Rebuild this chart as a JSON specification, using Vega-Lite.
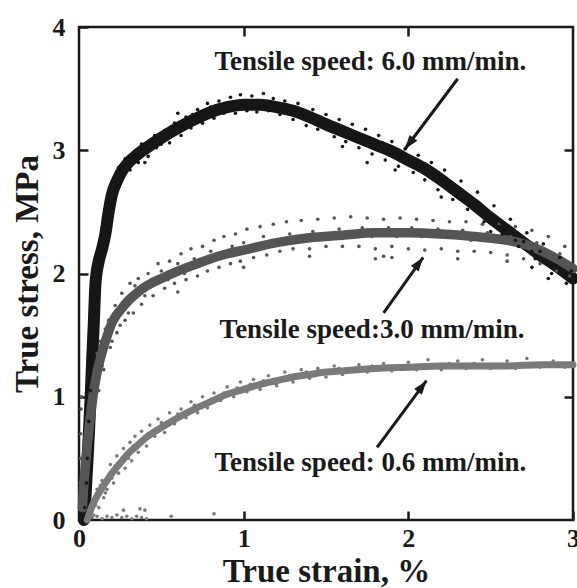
{
 "$schema": "https://vega.github.io/schema/vega-lite/v6.json",
 "width": 494, "height": 493,
 "autosize": {"type": "none"},
 "padding": {"left": 79, "top": 27, "right": 4, "bottom": 68},
 "background": "white",
 "config": {
  "view": {"stroke": "#1a1a1a", "strokeWidth": 2.5},
  "font": "Liberation Serif",
  "axis": {"grid": false, "domain": false, "tickColor": "#1a1a1a", "tickWidth": 2.5, "tickSize": -9,
   "labelFont": "Liberation Serif", "labelFontWeight": "bold", "labelFontSize": 26, "labelColor": "#1a1a1a",
   "titleFont": "Liberation Serif", "titleFontWeight": "bold", "titleFontSize": 33, "titleColor": "#1a1a1a",
   "labelFlush": false, "labelOverlap": false}
 },
 "datasets": {
  "curves": [
   {"s":"6.0","x":0.03,"y":0.0},{"s":"6.0","x":0.04,"y":0.2},{"s":"6.0","x":0.05,"y":0.45},{"s":"6.0","x":0.06,"y":0.7},{"s":"6.0","x":0.07,"y":0.98},{"s":"6.0","x":0.08,"y":1.3},{"s":"6.0","x":0.09,"y":1.6},{"s":"6.0","x":0.1,"y":1.92},{"s":"6.0","x":0.12,"y":2.1},{"s":"6.0","x":0.14,"y":2.2},{"s":"6.0","x":0.16,"y":2.32},{"s":"6.0","x":0.18,"y":2.5},{"s":"6.0","x":0.2,"y":2.64},{"s":"6.0","x":0.23,"y":2.75},{"s":"6.0","x":0.26,"y":2.83},{"s":"6.0","x":0.3,"y":2.9},{"s":"6.0","x":0.35,"y":2.96},{"s":"6.0","x":0.4,"y":3.01},{"s":"6.0","x":0.5,"y":3.1},{"s":"6.0","x":0.6,"y":3.18},{"s":"6.0","x":0.7,"y":3.25},{"s":"6.0","x":0.8,"y":3.31},{"s":"6.0","x":0.9,"y":3.35},{"s":"6.0","x":1.0,"y":3.37},{"s":"6.0","x":1.1,"y":3.37},{"s":"6.0","x":1.2,"y":3.35},{"s":"6.0","x":1.3,"y":3.32},{"s":"6.0","x":1.4,"y":3.27},{"s":"6.0","x":1.5,"y":3.21},{"s":"6.0","x":1.6,"y":3.155},{"s":"6.0","x":1.7,"y":3.1},{"s":"6.0","x":1.8,"y":3.045},{"s":"6.0","x":1.9,"y":2.99},{"s":"6.0","x":2.0,"y":2.92},{"s":"6.0","x":2.1,"y":2.85},{"s":"6.0","x":2.2,"y":2.76},{"s":"6.0","x":2.3,"y":2.66},{"s":"6.0","x":2.4,"y":2.56},{"s":"6.0","x":2.5,"y":2.45},{"s":"6.0","x":2.6,"y":2.35},{"s":"6.0","x":2.7,"y":2.25},{"s":"6.0","x":2.8,"y":2.15},{"s":"6.0","x":2.9,"y":2.06},{"s":"6.0","x":3.0,"y":1.96},
   {"s":"3.0","x":0.02,"y":0.1},{"s":"3.0","x":0.03,"y":0.3},{"s":"3.0","x":0.05,"y":0.6},{"s":"3.0","x":0.07,"y":0.85},{"s":"3.0","x":0.09,"y":1.05},{"s":"3.0","x":0.11,"y":1.2},{"s":"3.0","x":0.14,"y":1.36},{"s":"3.0","x":0.17,"y":1.49},{"s":"3.0","x":0.2,"y":1.6},{"s":"3.0","x":0.25,"y":1.7},{"s":"3.0","x":0.3,"y":1.78},{"s":"3.0","x":0.35,"y":1.84},{"s":"3.0","x":0.4,"y":1.89},{"s":"3.0","x":0.5,"y":1.96},{"s":"3.0","x":0.6,"y":2.02},{"s":"3.0","x":0.7,"y":2.07},{"s":"3.0","x":0.8,"y":2.12},{"s":"3.0","x":0.9,"y":2.16},{"s":"3.0","x":1.0,"y":2.19},{"s":"3.0","x":1.2,"y":2.25},{"s":"3.0","x":1.4,"y":2.29},{"s":"3.0","x":1.6,"y":2.31},{"s":"3.0","x":1.8,"y":2.33},{"s":"3.0","x":2.0,"y":2.33},{"s":"3.0","x":2.2,"y":2.32},{"s":"3.0","x":2.4,"y":2.3},{"s":"3.0","x":2.6,"y":2.27},{"s":"3.0","x":2.7,"y":2.24},{"s":"3.0","x":2.8,"y":2.19},{"s":"3.0","x":2.9,"y":2.12},{"s":"3.0","x":3.0,"y":2.04},
   {"s":"0.6","x":0.05,"y":0.0},{"s":"0.6","x":0.07,"y":0.08},{"s":"0.6","x":0.1,"y":0.17},{"s":"0.6","x":0.13,"y":0.24},{"s":"0.6","x":0.17,"y":0.32},{"s":"0.6","x":0.2,"y":0.38},{"s":"0.6","x":0.25,"y":0.46},{"s":"0.6","x":0.3,"y":0.54},{"s":"0.6","x":0.35,"y":0.6},{"s":"0.6","x":0.4,"y":0.66},{"s":"0.6","x":0.5,"y":0.75},{"s":"0.6","x":0.6,"y":0.83},{"s":"0.6","x":0.7,"y":0.9},{"s":"0.6","x":0.8,"y":0.96},{"s":"0.6","x":0.9,"y":1.02},{"s":"0.6","x":1.0,"y":1.06},{"s":"0.6","x":1.1,"y":1.1},{"s":"0.6","x":1.2,"y":1.13},{"s":"0.6","x":1.3,"y":1.16},{"s":"0.6","x":1.4,"y":1.18},{"s":"0.6","x":1.5,"y":1.2},{"s":"0.6","x":1.6,"y":1.21},{"s":"0.6","x":1.8,"y":1.23},{"s":"0.6","x":2.0,"y":1.24},{"s":"0.6","x":2.2,"y":1.25},{"s":"0.6","x":2.4,"y":1.25},{"s":"0.6","x":2.6,"y":1.25},{"s":"0.6","x":2.8,"y":1.26},{"s":"0.6","x":3.0,"y":1.26}
  ],
  "dots": [
   {"s":"0.6","x":0.06,"y":0.05},{"s":"0.6","x":0.08,"y":0.15},{"s":"0.6","x":0.09,"y":0.04},{"s":"0.6","x":0.11,"y":0.25},{"s":"0.6","x":0.12,"y":0.1},{"s":"0.6","x":0.14,"y":0.32},{"s":"0.6","x":0.15,"y":0.18},{"s":"0.6","x":0.17,"y":0.25},{"s":"0.6","x":0.19,"y":0.45},{"s":"0.6","x":0.21,"y":0.3},{"s":"0.6","x":0.23,"y":0.52},{"s":"0.6","x":0.24,"y":0.38},{"s":"0.6","x":0.27,"y":0.58},{"s":"0.6","x":0.28,"y":0.42},{"s":"0.6","x":0.31,"y":0.63},{"s":"0.6","x":0.32,"y":0.48},{"s":"0.6","x":0.34,"y":0.68},{"s":"0.6","x":0.36,"y":0.55},{"s":"0.6","x":0.38,"y":0.72},{"s":"0.6","x":0.41,"y":0.6},{"s":"0.6","x":0.43,"y":0.77},{"s":"0.6","x":0.46,"y":0.68},{"s":"0.6","x":0.48,"y":0.82},{"s":"0.6","x":0.52,"y":0.71},{"s":"0.6","x":0.55,"y":0.87},{"s":"0.6","x":0.58,"y":0.78},{"s":"0.6","x":0.62,"y":0.9},{"s":"0.6","x":0.65,"y":0.83},{"s":"0.6","x":0.68,"y":0.96},{"s":"0.6","x":0.72,"y":0.87},{"s":"0.6","x":0.75,"y":1.0},{"s":"0.6","x":0.78,"y":0.91},{"s":"0.6","x":0.82,"y":1.03},{"s":"0.6","x":0.86,"y":0.97},{"s":"0.6","x":0.9,"y":1.08},{"s":"0.6","x":0.94,"y":1.0},{"s":"0.6","x":0.98,"y":1.12},{"s":"0.6","x":1.02,"y":1.04},{"s":"0.6","x":1.06,"y":1.14},{"s":"0.6","x":1.1,"y":1.06},{"s":"0.6","x":1.15,"y":1.17},{"s":"0.6","x":1.2,"y":1.09},{"s":"0.6","x":1.25,"y":1.2},{"s":"0.6","x":1.3,"y":1.12},{"s":"0.6","x":1.35,"y":1.22},{"s":"0.6","x":1.4,"y":1.15},{"s":"0.6","x":1.45,"y":1.23},{"s":"0.6","x":1.5,"y":1.16},{"s":"0.6","x":1.55,"y":1.25},{"s":"0.6","x":1.6,"y":1.18},{"s":"0.6","x":1.7,"y":1.26},{"s":"0.6","x":1.75,"y":1.2},{"s":"0.6","x":1.85,"y":1.27},{"s":"0.6","x":1.9,"y":1.21},{"s":"0.6","x":2.0,"y":1.28},{"s":"0.6","x":2.05,"y":1.22},{"s":"0.6","x":2.12,"y":1.3},{"s":"0.6","x":2.2,"y":1.22},{"s":"0.6","x":2.3,"y":1.29},{"s":"0.6","x":2.35,"y":1.23},{"s":"0.6","x":2.45,"y":1.3},{"s":"0.6","x":2.5,"y":1.23},{"s":"0.6","x":2.6,"y":1.29},{"s":"0.6","x":2.65,"y":1.23},{"s":"0.6","x":2.72,"y":1.31},{"s":"0.6","x":2.8,"y":1.24},{"s":"0.6","x":2.88,"y":1.29},{"s":"0.6","x":2.95,"y":1.24},
   {"s":"0.6","x":0.1,"y":0.12},{"s":"0.6","x":0.13,"y":0.28},{"s":"0.6","x":0.16,"y":0.22},{"s":"0.6","x":0.2,"y":0.34},{"s":"0.6","x":0.22,"y":0.44},{"s":"0.6","x":0.26,"y":0.5},{"s":"0.6","x":0.3,"y":0.5},{"s":"0.6","x":0.33,"y":0.6},{"s":"0.6","x":0.37,"y":0.64},{"s":"0.6","x":0.42,"y":0.7},{"s":"0.6","x":0.45,"y":0.72},{"s":"0.6","x":0.5,"y":0.79},{"s":"0.6","x":0.54,"y":0.78},{"s":"0.6","x":0.6,"y":0.86},{"s":"0.6","x":0.64,"y":0.87},{"s":"0.6","x":0.7,"y":0.93},{"s":"0.6","x":0.76,"y":0.95},{"s":"0.6","x":0.8,"y":0.98},{"s":"0.6","x":0.88,"y":1.03},{"s":"0.6","x":0.96,"y":1.07},{"s":"0.6","x":1.04,"y":1.1},{"s":"0.6","x":1.12,"y":1.13},{"s":"0.6","x":1.18,"y":1.14},{"s":"0.6","x":1.28,"y":1.17},{"s":"0.6","x":1.38,"y":1.2},{"s":"0.6","x":1.48,"y":1.21},{"s":"0.6","x":1.58,"y":1.23},{"s":"0.6","x":1.68,"y":1.23},{"s":"0.6","x":1.78,"y":1.25},{"s":"0.6","x":1.95,"y":1.25},{"s":"0.6","x":2.1,"y":1.26},{"s":"0.6","x":2.25,"y":1.27},{"s":"0.6","x":2.4,"y":1.27},{"s":"0.6","x":2.55,"y":1.26},{"s":"0.6","x":2.7,"y":1.27},{"s":"0.6","x":2.85,"y":1.27},{"s":"0.6","x":2.99,"y":1.27},
   {"s":"0.6","x":0.08,"y":0.02},{"s":"0.6","x":0.11,"y":0.03},{"s":"0.6","x":0.14,"y":0.01},{"s":"0.6","x":0.17,"y":0.03},{"s":"0.6","x":0.2,"y":0.02},{"s":"0.6","x":0.23,"y":0.04},{"s":"0.6","x":0.26,"y":0.02},{"s":"0.6","x":0.29,"y":0.03},{"s":"0.6","x":0.32,"y":0.01},{"s":"0.6","x":0.35,"y":0.03},{"s":"0.6","x":0.38,"y":0.02},{"s":"0.6","x":0.41,"y":0.01},{"s":"0.6","x":0.27,"y":0.08},{"s":"0.6","x":0.37,"y":0.09},{"s":"0.6","x":0.4,"y":0.08},{"s":"0.6","x":0.56,"y":0.03},{"s":"0.6","x":0.82,"y":0.05},
   {"s":"3.0","x":0.005,"y":0.1},{"s":"3.0","x":0.008,"y":0.3},{"s":"3.0","x":0.01,"y":0.5},{"s":"3.0","x":0.01,"y":0.7},{"s":"3.0","x":0.012,"y":0.9},{"s":"3.0","x":0.015,"y":1.0},
   {"s":"3.0","x":0.04,"y":0.45},{"s":"3.0","x":0.06,"y":0.9},{"s":"3.0","x":0.08,"y":0.75},{"s":"3.0","x":0.1,"y":1.25},{"s":"3.0","x":0.12,"y":1.05},{"s":"3.0","x":0.13,"y":1.45},{"s":"3.0","x":0.15,"y":1.22},{"s":"3.0","x":0.18,"y":1.62},{"s":"3.0","x":0.19,"y":1.4},{"s":"3.0","x":0.22,"y":1.74},{"s":"3.0","x":0.23,"y":1.52},{"s":"3.0","x":0.26,"y":1.84},{"s":"3.0","x":0.28,"y":1.62},{"s":"3.0","x":0.31,"y":1.92},{"s":"3.0","x":0.33,"y":1.68},{"s":"3.0","x":0.36,"y":1.96},{"s":"3.0","x":0.38,"y":1.75},{"s":"3.0","x":0.42,"y":2.0},{"s":"3.0","x":0.45,"y":1.82},{"s":"3.0","x":0.48,"y":2.08},{"s":"3.0","x":0.52,"y":1.88},{"s":"3.0","x":0.55,"y":2.1},{"s":"3.0","x":0.58,"y":1.92},{"s":"3.0","x":0.62,"y":2.16},{"s":"3.0","x":0.65,"y":1.95},{"s":"3.0","x":0.68,"y":2.2},{"s":"3.0","x":0.72,"y":1.98},{"s":"3.0","x":0.75,"y":2.22},{"s":"3.0","x":0.78,"y":2.02},{"s":"3.0","x":0.82,"y":2.27},{"s":"3.0","x":0.85,"y":2.05},{"s":"3.0","x":0.88,"y":2.3},{"s":"3.0","x":0.92,"y":2.08},{"s":"3.0","x":0.95,"y":2.32},{"s":"3.0","x":0.98,"y":2.1},{"s":"3.0","x":1.02,"y":2.36},{"s":"3.0","x":1.06,"y":2.13},{"s":"3.0","x":1.1,"y":2.38},{"s":"3.0","x":1.14,"y":2.15},{"s":"3.0","x":1.18,"y":2.4},{"s":"3.0","x":1.22,"y":2.18},{"s":"3.0","x":1.26,"y":2.42},{"s":"3.0","x":1.3,"y":2.2},{"s":"3.0","x":1.35,"y":2.43},{"s":"3.0","x":1.4,"y":2.2},{"s":"3.0","x":1.45,"y":2.44},{"s":"3.0","x":1.5,"y":2.22},{"s":"3.0","x":1.55,"y":2.45},{"s":"3.0","x":1.6,"y":2.22},{"s":"3.0","x":1.65,"y":2.46},{"s":"3.0","x":1.7,"y":2.22},{"s":"3.0","x":1.75,"y":2.45},{"s":"3.0","x":1.8,"y":2.2},{"s":"3.0","x":1.85,"y":2.44},{"s":"3.0","x":1.9,"y":2.22},{"s":"3.0","x":1.95,"y":2.45},{"s":"3.0","x":2.0,"y":2.2},{"s":"3.0","x":2.05,"y":2.44},{"s":"3.0","x":2.1,"y":2.19},{"s":"3.0","x":2.15,"y":2.43},{"s":"3.0","x":2.2,"y":2.2},{"s":"3.0","x":2.25,"y":2.42},{"s":"3.0","x":2.3,"y":2.18},{"s":"3.0","x":2.35,"y":2.42},{"s":"3.0","x":2.4,"y":2.18},{"s":"3.0","x":2.45,"y":2.4},{"s":"3.0","x":2.5,"y":2.17},{"s":"3.0","x":2.55,"y":2.4},{"s":"3.0","x":2.6,"y":2.15},{"s":"3.0","x":2.65,"y":2.38},{"s":"3.0","x":2.7,"y":2.12},{"s":"3.0","x":2.75,"y":2.35},{"s":"3.0","x":2.8,"y":2.08},{"s":"3.0","x":2.85,"y":2.3},{"s":"3.0","x":2.9,"y":2.02},{"s":"3.0","x":2.95,"y":2.22},{"s":"3.0","x":2.98,"y":1.98},
   {"s":"3.0","x":0.03,"y":0.25},{"s":"3.0","x":0.05,"y":0.7},{"s":"3.0","x":0.07,"y":0.95},{"s":"3.0","x":0.09,"y":0.9},{"s":"3.0","x":0.11,"y":1.35},{"s":"3.0","x":0.14,"y":1.25},{"s":"3.0","x":0.16,"y":1.55},{"s":"3.0","x":0.2,"y":1.45},{"s":"3.0","x":0.21,"y":1.67},{"s":"3.0","x":0.25,"y":1.58},{"s":"3.0","x":0.27,"y":1.77},{"s":"3.0","x":0.3,"y":1.68},{"s":"3.0","x":0.34,"y":1.9},{"s":"3.0","x":0.4,"y":1.82},{"s":"3.0","x":0.44,"y":1.95},{"s":"3.0","x":0.5,"y":2.02},{"s":"3.0","x":0.54,"y":1.95},{"s":"3.0","x":0.6,"y":2.08},{"s":"3.0","x":0.64,"y":2.0},{"s":"3.0","x":0.7,"y":2.12},{"s":"3.0","x":0.76,"y":2.1},{"s":"3.0","x":0.8,"y":2.18},{"s":"3.0","x":0.87,"y":2.15},{"s":"3.0","x":0.93,"y":2.22},{"s":"3.0","x":1.0,"y":2.25},{"s":"3.0","x":1.05,"y":2.2},{"s":"3.0","x":1.12,"y":2.3},{"s":"3.0","x":1.2,"y":2.25},{"s":"3.0","x":1.28,"y":2.32},{"s":"3.0","x":1.33,"y":2.26},{"s":"3.0","x":1.42,"y":2.34},{"s":"3.0","x":1.48,"y":2.28},{"s":"3.0","x":1.58,"y":2.36},{"s":"3.0","x":1.63,"y":2.3},{"s":"3.0","x":1.72,"y":2.37},{"s":"3.0","x":1.78,"y":2.3},{"s":"3.0","x":1.88,"y":2.37},{"s":"3.0","x":1.93,"y":2.3},{"s":"3.0","x":2.02,"y":2.37},{"s":"3.0","x":2.08,"y":2.3},{"s":"3.0","x":2.18,"y":2.36},{"s":"3.0","x":2.23,"y":2.3},{"s":"3.0","x":2.33,"y":2.35},{"s":"3.0","x":2.38,"y":2.27},{"s":"3.0","x":2.48,"y":2.33},{"s":"3.0","x":2.53,"y":2.26},{"s":"3.0","x":2.62,"y":2.3},{"s":"3.0","x":2.68,"y":2.22},{"s":"3.0","x":2.78,"y":2.25},{"s":"3.0","x":2.83,"y":2.15},{"s":"3.0","x":2.92,"y":2.16},{"s":"3.0","x":2.97,"y":2.08},
   {"s":"3.0","x":1.8,"y":2.12},{"s":"3.0","x":1.85,"y":2.14},{"s":"3.0","x":1.9,"y":2.13},{"s":"3.0","x":2.3,"y":2.12},{"s":"3.0","x":2.6,"y":2.1},{"s":"3.0","x":0.6,"y":1.85},{"s":"3.0","x":1.0,"y":2.05},{"s":"3.0","x":1.4,"y":2.14},
   {"s":"6.0","x":0.12,"y":2.05},{"s":"6.0","x":0.14,"y":2.28},{"s":"6.0","x":0.16,"y":2.4},{"s":"6.0","x":0.18,"y":2.6},{"s":"6.0","x":0.2,"y":2.55},{"s":"6.0","x":0.21,"y":2.76},{"s":"6.0","x":0.23,"y":2.68},{"s":"6.0","x":0.24,"y":2.86},{"s":"6.0","x":0.27,"y":2.8},{"s":"6.0","x":0.28,"y":2.93},{"s":"6.0","x":0.31,"y":2.84},{"s":"6.0","x":0.33,"y":2.98},{"s":"6.0","x":0.36,"y":2.9},{"s":"6.0","x":0.38,"y":3.05},{"s":"6.0","x":0.42,"y":2.95},{"s":"6.0","x":0.44,"y":3.08},{"s":"6.0","x":0.47,"y":3.02},{"s":"6.0","x":0.52,"y":3.16},{"s":"6.0","x":0.55,"y":3.06},{"s":"6.0","x":0.58,"y":3.22},{"s":"6.0","x":0.62,"y":3.12},{"s":"6.0","x":0.65,"y":3.27},{"s":"6.0","x":0.68,"y":3.18},{"s":"6.0","x":0.72,"y":3.33},{"s":"6.0","x":0.75,"y":3.22},{"s":"6.0","x":0.78,"y":3.38},{"s":"6.0","x":0.82,"y":3.26},{"s":"6.0","x":0.85,"y":3.4},{"s":"6.0","x":0.88,"y":3.3},{"s":"6.0","x":0.92,"y":3.43},{"s":"6.0","x":0.95,"y":3.3},{"s":"6.0","x":0.98,"y":3.45},{"s":"6.0","x":1.02,"y":3.32},{"s":"6.0","x":1.05,"y":3.44},{"s":"6.0","x":1.08,"y":3.31},{"s":"6.0","x":1.12,"y":3.46},{"s":"6.0","x":1.15,"y":3.32},{"s":"6.0","x":1.18,"y":3.42},{"s":"6.0","x":1.22,"y":3.29},{"s":"6.0","x":1.25,"y":3.4},{"s":"6.0","x":1.3,"y":3.25},{"s":"6.0","x":1.33,"y":3.38},{"s":"6.0","x":1.38,"y":3.2},{"s":"6.0","x":1.42,"y":3.33},{"s":"6.0","x":1.45,"y":3.17},{"s":"6.0","x":1.5,"y":3.29},{"s":"6.0","x":1.55,"y":3.11},{"s":"6.0","x":1.58,"y":3.25},{"s":"6.0","x":1.62,"y":3.07},{"s":"6.0","x":1.66,"y":3.21},{"s":"6.0","x":1.7,"y":3.02},{"s":"6.0","x":1.74,"y":3.17},{"s":"6.0","x":1.78,"y":2.97},{"s":"6.0","x":1.82,"y":3.12},{"s":"6.0","x":1.86,"y":2.92},{"s":"6.0","x":1.9,"y":3.07},{"s":"6.0","x":1.94,"y":2.87},{"s":"6.0","x":1.98,"y":3.01},{"s":"6.0","x":2.03,"y":2.82},{"s":"6.0","x":2.06,"y":2.96},{"s":"6.0","x":2.1,"y":2.76},{"s":"6.0","x":2.14,"y":2.9},{"s":"6.0","x":2.18,"y":2.68},{"s":"6.0","x":2.22,"y":2.84},{"s":"6.0","x":2.27,"y":2.6},{"s":"6.0","x":2.32,"y":2.75},{"s":"6.0","x":2.36,"y":2.52},{"s":"6.0","x":2.42,"y":2.66},{"s":"6.0","x":2.46,"y":2.42},{"s":"6.0","x":2.52,"y":2.55},{"s":"6.0","x":2.57,"y":2.32},{"s":"6.0","x":2.62,"y":2.44},{"s":"6.0","x":2.67,"y":2.22},{"s":"6.0","x":2.72,"y":2.33},{"s":"6.0","x":2.77,"y":2.12},{"s":"6.0","x":2.82,"y":2.24},{"s":"6.0","x":2.87,"y":2.0},{"s":"6.0","x":2.92,"y":2.13},{"s":"6.0","x":2.96,"y":1.92},{"s":"6.0","x":2.99,"y":2.02},
   {"s":"6.0","x":0.09,"y":1.6},{"s":"6.0","x":0.1,"y":1.85},{"s":"6.0","x":0.08,"y":1.35},{"s":"6.0","x":0.07,"y":1.05},{"s":"6.0","x":0.06,"y":0.8},{"s":"6.0","x":0.05,"y":0.5},{"s":"6.0","x":0.045,"y":0.3},{"s":"6.0","x":0.035,"y":0.1},{"s":"6.0","x":0.13,"y":2.2},{"s":"6.0","x":0.25,"y":2.76},{"s":"6.0","x":0.29,"y":2.88},{"s":"6.0","x":0.34,"y":2.92},{"s":"6.0","x":0.4,"y":3.05},{"s":"6.0","x":0.46,"y":3.12},{"s":"6.0","x":0.5,"y":3.05},{"s":"6.0","x":0.56,"y":3.19},{"s":"6.0","x":0.63,"y":3.2},{"s":"6.0","x":0.69,"y":3.29},{"s":"6.0","x":0.74,"y":3.29},{"s":"6.0","x":0.8,"y":3.35},{"s":"6.0","x":0.86,"y":3.33},{"s":"6.0","x":0.9,"y":3.38},{"s":"6.0","x":0.97,"y":3.35},{"s":"6.0","x":1.03,"y":3.4},{"s":"6.0","x":1.1,"y":3.35},{"s":"6.0","x":1.16,"y":3.38},{"s":"6.0","x":1.23,"y":3.34},{"s":"6.0","x":1.29,"y":3.35},{"s":"6.0","x":1.36,"y":3.28},{"s":"6.0","x":1.41,"y":3.25},{"s":"6.0","x":1.47,"y":3.24},{"s":"6.0","x":1.53,"y":3.18},{"s":"6.0","x":1.6,"y":3.18},{"s":"6.0","x":1.67,"y":3.11},{"s":"6.0","x":1.72,"y":3.1},{"s":"6.0","x":1.8,"y":3.03},{"s":"6.0","x":1.84,"y":3.06},{"s":"6.0","x":1.92,"y":2.97},{"s":"6.0","x":1.96,"y":2.96},{"s":"6.0","x":2.02,"y":2.9},{"s":"6.0","x":2.08,"y":2.88},{"s":"6.0","x":2.13,"y":2.81},{"s":"6.0","x":2.2,"y":2.76},{"s":"6.0","x":2.25,"y":2.7},{"s":"6.0","x":2.3,"y":2.62},{"s":"6.0","x":2.38,"y":2.58},{"s":"6.0","x":2.44,"y":2.5},{"s":"6.0","x":2.5,"y":2.47},{"s":"6.0","x":2.55,"y":2.38},{"s":"6.0","x":2.6,"y":2.36},{"s":"6.0","x":2.65,"y":2.27},{"s":"6.0","x":2.7,"y":2.26},{"s":"6.0","x":2.75,"y":2.18},{"s":"6.0","x":2.8,"y":2.18},{"s":"6.0","x":2.85,"y":2.08},{"s":"6.0","x":2.9,"y":2.06},{"s":"6.0","x":2.94,"y":2.0},{"s":"6.0","x":2.98,"y":1.95},
   {"s":"6.0","x":0.4,"y":2.9},{"s":"6.0","x":0.6,"y":3.3},{"s":"6.0","x":1.6,"y":3.03},{"s":"6.0","x":1.75,"y":2.9},{"s":"6.0","x":1.92,"y":2.84},{"s":"6.0","x":2.0,"y":3.05},{"s":"6.0","x":2.2,"y":2.62},{"s":"6.0","x":2.5,"y":2.34},{"s":"6.0","x":2.75,"y":2.05},{"s":"6.0","x":2.85,"y":1.96}
  ],
  "notes": [
   {"id":1,"label":"Tensile speed: 6.0 mm/min.","tx":1.77,"ty":3.72,"ax":2.30,"ay":3.58,"bx":1.98,"by":3.01},
   {"id":2,"label":"Tensile speed:3.0 mm/min.","tx":1.78,"ty":1.54,"ax":1.85,"ay":1.68,"bx":2.09,"by":2.13},
   {"id":3,"label":"Tensile speed: 0.6 mm/min.","tx":1.77,"ty":0.46,"ax":1.81,"ay":0.59,"bx":2.11,"by":1.13}
  ]
 },
 "resolve": {"axis": {"x": "independent", "y": "independent"}},
 "layer": [
  {
   "data": {"name": "curves"},
   "mark": {"type": "line", "strokeCap": "round", "strokeJoin": "round", "interpolate": "monotone"},
   "encoding": {
    "x": {"field": "x", "type": "quantitative", "scale": {"domain": [0, 3], "nice": false},
     "axis": {"orient": "bottom", "values": [0, 1, 2, 3], "title": "True strain, %", "labelPadding": 14,
      "titleX": 247, "titleY": 61, "titleBaseline": "alphabetic", "titleAlign": "center"}},
    "y": {"field": "y", "type": "quantitative", "scale": {"domain": [0, 4], "nice": false},
     "axis": {"orient": "left", "values": [0, 1, 2, 3, 4], "title": "True stress, MPa", "labelPadding": 23,
      "titleX": -42, "titleY": 246.5, "titleBaseline": "alphabetic", "titleAlign": "center", "titleAngle": -90}},
    "color": {"field": "s", "type": "nominal", "scale": {"domain": ["0.6", "3.0", "6.0"], "range": ["#7a7a7a", "#555555", "#161616"]}, "legend": null},
    "strokeWidth": {"field": "s", "type": "nominal", "scale": {"domain": ["0.6", "3.0", "6.0"], "range": [7, 12, 7]}, "legend": null}
   }
  },
  {
   "data": {"name": "dots"},
   "mark": {"type": "circle", "size": 13, "opacity": 1},
   "encoding": {
    "x": {"field": "x", "type": "quantitative", "scale": {"domain": [0, 3], "nice": false},
     "axis": {"orient": "top", "values": [1, 2], "labels": false, "title": null}},
    "y": {"field": "y", "type": "quantitative", "scale": {"domain": [0, 4], "nice": false},
     "axis": {"orient": "right", "values": [1, 2, 3], "labels": false, "title": null}},
    "color": {"field": "s", "type": "nominal", "scale": {"domain": ["0.6", "3.0", "6.0"], "range": ["#7a7a7a", "#555555", "#161616"]}, "legend": null}
   }
  },
  {
   "data": {"name": "notes"},
   "mark": {"type": "rule", "strokeWidth": 3, "color": "#1a1a1a"},
   "encoding": {
    "x": {"field": "ax", "type": "quantitative", "scale": {"domain": [0, 3], "nice": false}, "axis": null},
    "y": {"field": "ay", "type": "quantitative", "scale": {"domain": [0, 4], "nice": false}, "axis": null},
    "x2": {"field": "bx"},
    "y2": {"field": "by"}
   }
  },
  {
   "data": {"name": "notes"},
   "transform": [{"filter": "datum.id == 1"}],
   "mark": {"type": "point", "shape": "M0,0L0.7,2L-0.7,2Z", "size": 196, "filled": true, "opacity": 1, "color": "#1a1a1a", "angle": 217},
   "encoding": {
    "x": {"field": "bx", "type": "quantitative", "scale": {"domain": [0, 3], "nice": false}, "axis": null},
    "y": {"field": "by", "type": "quantitative", "scale": {"domain": [0, 4], "nice": false}, "axis": null}
   }
  },
  {
   "data": {"name": "notes"},
   "transform": [{"filter": "datum.id != 1"}],
   "mark": {"type": "point", "shape": "M0,0L0.7,2L-0.7,2Z", "size": 196, "filled": true, "opacity": 1, "color": "#1a1a1a", "angle": 37},
   "encoding": {
    "x": {"field": "bx", "type": "quantitative", "scale": {"domain": [0, 3], "nice": false}, "axis": null},
    "y": {"field": "by", "type": "quantitative", "scale": {"domain": [0, 4], "nice": false}, "axis": null}
   }
  },
  {
   "data": {"name": "notes"},
   "mark": {"type": "text", "font": "Liberation Serif", "fontWeight": "bold", "fontSize": 27, "color": "#1a1a1a", "align": "center", "baseline": "middle"},
   "encoding": {
    "x": {"field": "tx", "type": "quantitative", "scale": {"domain": [0, 3], "nice": false}, "axis": null},
    "y": {"field": "ty", "type": "quantitative", "scale": {"domain": [0, 4], "nice": false}, "axis": null},
    "text": {"field": "label"}
   }
  }
 ]
}
